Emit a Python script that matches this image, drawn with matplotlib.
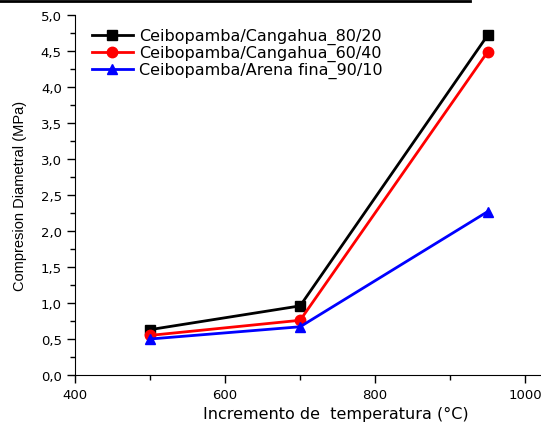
import matplotlib
matplotlib.use("Agg")
import matplotlib.pyplot as plt
from matplotlib.lines import Line2D
from matplotlib.ticker import MultipleLocator, FuncFormatter

temps = [500, 700, 950]
s80_20 = [0.63, 0.96, 4.72]
s60_40 = [0.55, 0.76, 4.49]
s90_10 = [0.50, 0.67, 2.27]
labels = ["Ceibopamba/Cangahua_80/20", "Ceibopamba/Cangahua_60/40",
          "Ceibopamba/Arena fina_90/10"]

plt.rcParams["font.family"] = ["DejaVu Sans"]

fig = plt.figure(figsize=(5.41, 4.31), dpi=100)
ax = fig.add_axes([75 / 541, 55 / 431, 466 / 541, 360 / 431])

ax.plot(temps, s80_20, "s-", color="black", lw=2, ms=7, label=labels[0])
ax.plot(temps, s60_40, "o-", color="red", lw=2, ms=7.5, label=labels[1])
ax.plot(temps, s90_10, "^-", color="blue", lw=2, ms=7.5, label=labels[2])

ax.set_xlim(400, 1021)
ax.set_ylim(0, 5.0)
ax.xaxis.set_major_locator(MultipleLocator(200))
ax.xaxis.set_minor_locator(MultipleLocator(100))
ax.yaxis.set_major_locator(MultipleLocator(0.5))
ax.yaxis.set_minor_locator(MultipleLocator(0.25))
ax.yaxis.set_major_formatter(FuncFormatter(lambda v, p: f"{v:.1f}".replace(".", ",")))
ax.tick_params(which="major", direction="out", length=6, width=1, labelsize=9.5)
ax.tick_params(which="minor", direction="out", length=3.5, width=1)
for side in ("top", "right"):
    ax.spines[side].set_visible(False)

ax.set_xlabel("Incremento de  temperatura (°C)", fontsize=11.5)
ax.xaxis.set_label_coords(0.56, -0.085)
ax.set_ylabel("Compresion Diametral (MPa)", fontsize=10.5,
              family="Liberation Sans", labelpad=10)

ax.legend(loc="upper left", bbox_to_anchor=(0.015, 0.99), frameon=False,
          fontsize=11.5, handlelength=2.6, handletextpad=0.4,
          labelspacing=0.05, borderaxespad=0.2)

fig.add_artist(Line2D([0, 470 / 541], [0.996, 0.996], color="black", lw=2,
                      transform=fig.transFigure))

fig.savefig("out.png", dpi=100)
